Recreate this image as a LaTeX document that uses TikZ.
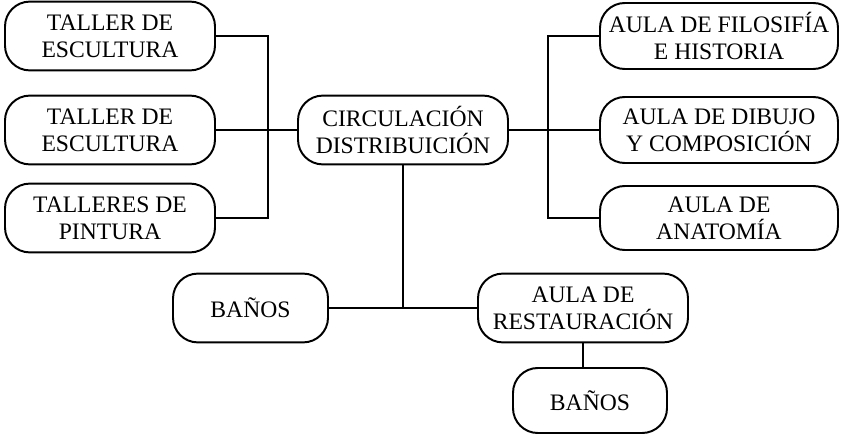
\documentclass[tikz,border=0pt]{standalone}
\usepackage{fontspec}
\setmainfont{Liberation Serif}
\usepackage{tikz}

\begin{document}
\begin{tikzpicture}[
room/.style={draw, line width=1.4pt, rounded corners=0.62cm, align=center, inner sep=0pt,
  minimum height=1.72cm, font=\fontsize{16.8}{19.2}\selectfont},
link/.style={line width=1.4pt}]
\useasboundingbox (0,0) rectangle (21.075,10.875);
\node[room, minimum width=5.25cm] (t1) at (2.75,9.975) {TALLER DE\\ESCULTURA};
\node[room, minimum width=5.25cm] (t2) at (2.75,7.625) {TALLER DE\\ESCULTURA};
\node[room, minimum width=5.25cm] (t3) at (2.75,5.425) {TALLERES DE\\PINTURA};
\node[room, minimum width=5.25cm] (circ) at (10.075,7.625) {CIRCULACIÓN\\DISTRIBUICIÓN};
\node[room, minimum width=5.95cm, minimum height=1.65cm] (a1) at (17.975,9.975) {AULA DE FILOSIFÍA\\E HISTORIA};
\node[room, minimum width=5.95cm, minimum height=1.65cm] (a2) at (17.975,7.625) {AULA DE DIBUJO\\Y COMPOSICIÓN};
\node[room, minimum width=5.95cm, minimum height=1.6cm] (a3) at (17.975,5.425) {AULA DE\\ANATOMÍA};
\node[room, minimum width=3.875cm] (b1) at (6.2625,3.175) {BAÑOS};
\node[room, minimum width=5.25cm] (rest) at (14.575,3.175) {AULA DE\\RESTAURACIÓN};
\node[room, minimum width=3.85cm, minimum height=1.625cm] (b2) at (14.75,0.8625) {BAÑOS};
\coordinate (busL) at (6.7,7.625);
\coordinate (busR) at (13.7,7.625);
\draw[link] (t1.east) -| (busL) |- (t3.east);
\draw[link] (t2.east) -- (circ.west);
\draw[link] (a1.west) -| (busR) |- (a3.west);
\draw[link] (circ.east) -- (a2.west);
\draw[link] (circ.south) -- (circ.south |- b1.east);
\draw[link] (b1.east) -- (rest.west);
\draw[link] (rest.south) -- (rest.south |- b2.north);
\end{tikzpicture}
\end{document}
